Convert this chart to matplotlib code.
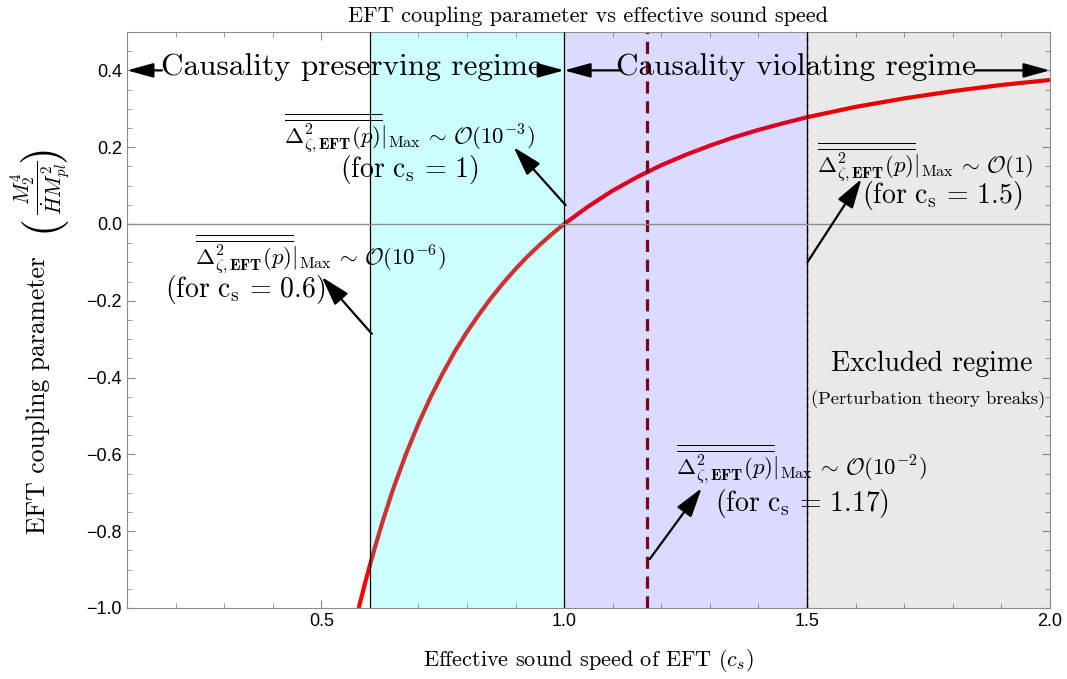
import numpy as np
import matplotlib
matplotlib.use("Agg")
import matplotlib.pyplot as plt
from matplotlib.ticker import MultipleLocator

plt.rcParams['font.family'] = 'serif'
plt.rcParams['font.serif'] = ['cmr10']
plt.rcParams['mathtext.fontset'] = 'cm'
plt.rcParams['axes.formatter.use_mathtext'] = True

# values
cs = [0.577, 0.59, 0.6, 0.61, 0.625, 0.64, 0.65, 0.675, 0.7, 0.725, 0.75, 0.775,
      0.8, 0.825, 0.85, 0.875, 0.9, 0.925, 0.95, 0.975, 1.0, 1.05, 1.1, 1.15, 1.2,
      1.25, 1.3, 1.35, 1.4, 1.45, 1.5, 1.6, 1.7, 1.8, 1.9, 2.0]
coupling = [-1.0, -0.936, -0.889, -0.844, -0.78, -0.721, -0.683, -0.597, -0.52, -0.451,
            -0.389, -0.332, -0.281, -0.235, -0.192, -0.153, -0.117, -0.084, -0.054,
            -0.026, 0.0, 0.046, 0.087, 0.122, 0.153, 0.18, 0.204, 0.226, 0.245, 0.262,
            0.278, 0.305, 0.327, 0.346, 0.362, 0.375]

# translucent regime bands laid over the curve
regions = [(0.6, 1.0, 'cyan', 0.2), (1.0, 1.5, 'blue', 0.14), (1.5, 2.0, 'black', 0.086)]
bounds = [0.6, 1.0, 1.5]
cs_marked = 1.17

xticks = [0.5, 1.0, 1.5, 2.0]
yticks = [-1.0, -0.8, -0.6, -0.4, -0.2, 0.0, 0.2, 0.4]

fig = plt.figure(figsize=(10.67, 6.79), dpi=100)
ax = fig.add_axes([0.119, 0.1046, 0.865, 0.8483])

ax.plot(cs, coupling, color='red', lw=3, zorder=1, solid_capstyle='butt')
ax.axvline(cs_marked, color='#8b0000', lw=2.3, dashes=(3.8, 2.4), zorder=1)
ax.axvline(1.5, color='#8b0000', lw=1.0, dashes=(3.6, 2.4), zorder=1)

for a, b, c, al in regions:
    ax.axvspan(a, b, color=c, alpha=al, lw=0, zorder=2)
for b in bounds:
    ax.axvline(b, color='k', lw=0.9, zorder=3)
ax.axhline(0, color='#8c8c8c', lw=1.0, zorder=3)

ax.set_xlim(0.1, 2.0)
ax.set_ylim(-1.0, 0.5)
ax.set_xticks(xticks)
ax.set_yticks(yticks)
ax.xaxis.set_minor_locator(MultipleLocator(0.1))
ax.yaxis.set_minor_locator(MultipleLocator(0.05))
ax.tick_params(which='both', direction='in', top=True, right=True, color='#8c8c8c',
               labelsize=13, labelfontfamily='Liberation Sans')
ax.tick_params(which='major', length=6)
ax.tick_params(which='minor', length=3.5)
ax.xaxis.set_major_formatter(plt.FuncFormatter(lambda v, p: f'{v:.1f}'))
ax.yaxis.set_major_formatter(plt.FuncFormatter(lambda v, p: f'{v:.1f}'.replace('-', '\u2212')))
for s in ax.spines.values():
    s.set_color('#8c8c8c')

ax.set_title('EFT coupling parameter vs effective sound speed', fontsize=16, pad=7)
ax.set_xlabel(r'Effective sound speed of EFT ($c_s$)', fontsize=16, labelpad=12)

# y label in pieces so the fraction can be set in display size
fig.text(0.0356, 0.418, 'EFT coupling parameter', fontsize=18.5, rotation=90,
         ha='center', va='center')
frac = fig.text(0.0385, 0.723, r'$\dfrac{M_2^4}{\dot{H}M_{pl}^2}$', fontsize=15.5,
                rotation=90, ha='center', va='center')
fig.canvas.draw()
bb = frac.get_window_extent().transformed(fig.transFigure.inverted())
frac.set_y(frac.get_position()[1] + 0.723 - (bb.y0 + bb.y1) / 2)
fig.canvas.draw()
bb = frac.get_window_extent().transformed(fig.transFigure.inverted())
pad = 8 / 679
fig.text(0.0385, bb.y0 - pad, '(', fontsize=33, rotation=90, ha='center', va='center')
fig.text(0.0385, bb.y1 + pad, ')', fontsize=33, rotation=90, ha='center', va='center')

ap = dict(arrowstyle='-|>,head_length=0.9,head_width=0.27', color='k', lw=1.6,
          mutation_scale=20, shrinkA=0, shrinkB=0)
ap_h = dict(arrowstyle='-|>,head_length=0.8,head_width=0.22', color='k', lw=1.6,
            mutation_scale=20, shrinkA=0, shrinkB=0)

# regime labels with arrows
ax.text(0.561, 0.41, 'Causality preserving regime', fontsize=22.5, ha='center', va='center', zorder=5)
ax.annotate('', xy=(0.1, 0.4), xytext=(0.172, 0.4), arrowprops=ap_h, zorder=5)
ax.annotate('', xy=(1.0, 0.4), xytext=(0.95, 0.4), arrowprops=ap_h, zorder=5)
ax.text(1.478, 0.41, 'Causality violating regime', fontsize=22.5, ha='center', va='center', zorder=5)
ax.annotate('', xy=(1.0, 0.4), xytext=(1.118, 0.4), arrowprops=ap_h, zorder=5)
ax.annotate('', xy=(2.0, 0.4), xytext=(1.845, 0.4), arrowprops=ap_h, zorder=5)

ax.text(1.756, -0.364, 'Excluded regime', fontsize=20, ha='center', va='center', zorder=5)
ax.text(1.75, -0.458, '(Perturbation theory breaks)', fontsize=13.4, ha='center', va='center', zorder=5)

def delta(order):
    return (r'$\overline{\overline{\Delta^2_{\zeta,\mathbf{EFT}}(p)}}|_{\mathrm{Max}}'
            r'\,\sim\,\mathcal{O}(' + order + ')$')

def forcs(v):
    return r'$(\mathrm{for}\ \mathrm{c}_\mathrm{s}\,=\,' + v + ')$'

notes = [
    # order, cs text, line1 pos, line2 pos, arrow tail, arrow head
    ('10^{-3}', '1', (0.682, 0.237), (0.682, 0.143), (1.003, 0.049), (0.896, 0.2)),
    ('10^{-6}', '0.6', (0.499, -0.078), (0.343, -0.171), (0.604, -0.286), (0.501, -0.138)),
    ('10^{-2}', '1.17', (1.489, -0.624), (1.489, -0.729), (1.176, -0.873), (1.283, -0.688)),
    ('1', '1.5', (1.743, 0.163), (1.779, 0.074), (1.501, -0.099), (1.612, 0.117)),
]
for order, v, p1, p2, tail, head in notes:
    ax.text(*p1, delta(order), fontsize=16.5, ha='center', va='center', zorder=5)
    ax.text(*p2, forcs(v), fontsize=20, ha='center', va='center', zorder=5)
    ax.annotate('', xy=head, xytext=tail, arrowprops=ap, zorder=5)

fig.savefig('out.png', dpi=100)
